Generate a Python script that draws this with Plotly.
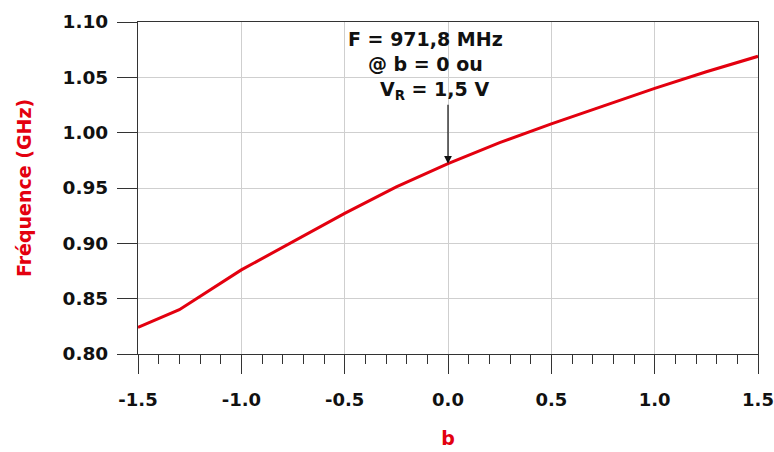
import plotly.graph_objects as go

b_values = [-1.5, -1.3, -1.0, -0.8, -0.5, -0.25, 0.0, 0.25, 0.5, 0.75, 1.0, 1.25, 1.5]
freq_ghz = [0.824, 0.840, 0.876, 0.8965, 0.927, 0.951, 0.972, 0.991, 1.008, 1.024, 1.040, 1.055, 1.069]

x_ticks = [-1.5, -1.0, -0.5, 0.0, 0.5, 1.0, 1.5]
x_ticklabels = ["-1.5", "-1.0", "-0.5", "0.0", "0.5", "1.0", "1.5"]
y_ticks = [0.80, 0.85, 0.90, 0.95, 1.00, 1.05, 1.10]
y_ticklabels = ["0.80", "0.85", "0.90", "0.95", "1.00", "1.05", "1.10"]

marker_b = 0.0
marker_f = 0.9718
note_top = "F = 971,8 MHz<br>@ b = 0 ou"
note_vr = "V<sub>R</sub> = 1,5 V&nbsp;&nbsp;&nbsp;&nbsp;"

FONT = "DejaVu Sans, Verdana, sans-serif"
RED = "#e3000f"
INK = "#111111"

fig = go.Figure()
fig.add_trace(go.Scatter(x=b_values, y=freq_ghz, mode="lines",
                         line=dict(color=RED, width=3), showlegend=False))

# first two lines of the note
fig.add_annotation(x=-0.107, y=1.1, xref="x", yref="y", yanchor="top", yshift=-4,
                   text=note_top, showarrow=False, align="center",
                   font=dict(family=FONT, size=19, color=INK, weight="bold"))
# third line with the arrow pointing at the curve
fig.add_annotation(x=marker_b, y=marker_f, xref="x", yref="y",
                   ax=0, ay=-73, axref="pixel", ayref="pixel",
                   text=note_vr, showarrow=True, arrowhead=2, arrowsize=1.3,
                   arrowwidth=1.2, arrowcolor=INK, standoff=0,
                   font=dict(family=FONT, size=19, color=INK, weight="bold"))

fig.update_layout(
    width=774, height=452,
    margin=dict(l=138, r=16, t=22, b=98, autoexpand=False),
    paper_bgcolor="white", plot_bgcolor="white",
    font=dict(family=FONT, size=19, color=INK, weight="bold"),
)
fig.update_xaxes(
    range=[-1.5, 1.5], tickvals=x_ticks, ticktext=x_ticklabels, automargin=False,
    ticks="outside", ticklen=19, tickwidth=1.2, tickcolor="#333",
    ticklabelstandoff=10, ticklabeloverflow="allow",
    showline=True, linecolor="#333", linewidth=1.2, mirror=True,
    showgrid=True, gridcolor="#cfcfcf", gridwidth=1, zeroline=False,
    minor=dict(dtick=0.1, ticks="outside", ticklen=9, tickcolor="#333", tickwidth=1.2, showgrid=False),
    tickfont=dict(family=FONT, size=18, color=INK, weight="bold"),
    title=dict(text="b", font=dict(family=FONT, size=19, color=RED, weight="bold"), standoff=22),
)
fig.update_yaxes(
    range=[0.80, 1.10], tickvals=y_ticks, ticktext=y_ticklabels, automargin=False,
    ticks="outside", ticklen=20, tickwidth=1.2, tickcolor="#333",
    ticklabelstandoff=5,
    showline=True, linecolor="#333", linewidth=1.2, mirror=True,
    showgrid=True, gridcolor="#cfcfcf", gridwidth=1, zeroline=False,
    tickfont=dict(family=FONT, size=18.5, color=INK, weight="bold"),
    title=dict(text="Fréquence (GHz)", font=dict(family=FONT, size=19, color=RED, weight="bold"), standoff=25),
)
fig.write_html("out.html", config={"displayModeBar": False},
               post_script="document.body.style.margin='0';")
